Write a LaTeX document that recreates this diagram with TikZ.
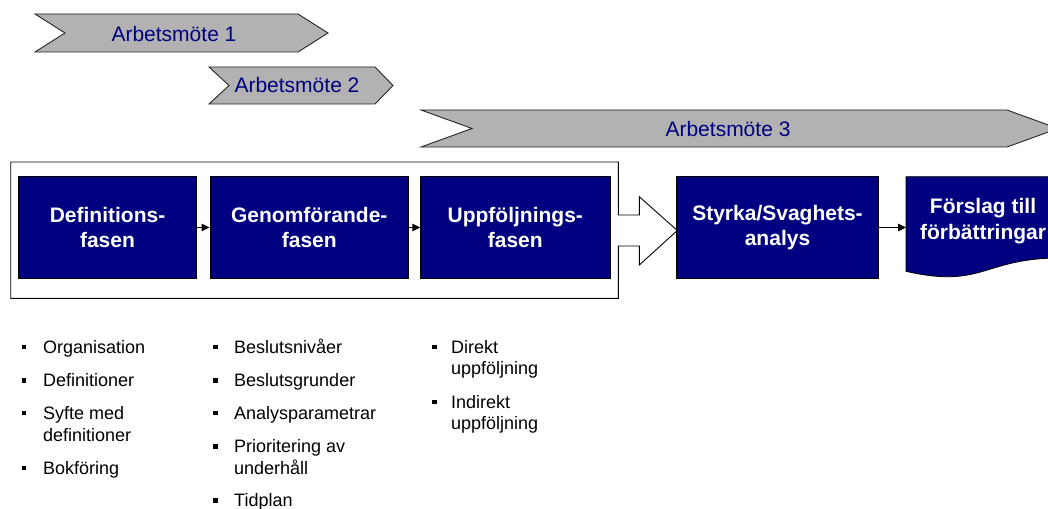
\documentclass[tikz,border=0pt]{standalone}
\usepackage{fontspec}
\setmainfont{Liberation Sans}
\usetikzlibrary{arrows.meta}
\definecolor{navyfill}{RGB}{0,0,128}
\definecolor{navytext}{RGB}{0,0,128}
\definecolor{chevgray}{RGB}{178,178,178}
\tikzset{
  chev/.style={fill=chevgray, draw=black!85, line width=0.9pt, line join=miter},
  chevtext/.style={inner sep=0pt, anchor=base, text=navytext, font=\fontsize{21}{25}\selectfont},
  phasebox/.style={fill=navyfill, draw=black, line width=0.8pt, text=white, align=center,
    font=\fontsize{21}{25.5}\selectfont\bfseries, inner sep=0pt},
  flowarrow/.style={-{Triangle[length=8pt,width=7.5pt]}, line width=1pt, black},
  listtext/.style={inner sep=0pt, anchor=base west, font=\fontsize{18}{21}\selectfont},
  bulletsq/.style={fill=black, minimum size=4.5pt, inner sep=0pt}
}
\begin{document}
\begin{tikzpicture}[x=1pt,y=-1pt]
\useasboundingbox (0,0) rectangle (1048,508);
\clip (0,0) rectangle (1048,508);

% chevrons
\draw[chev] (35,14) -- (298,14) -- (328,33) -- (298,52) -- (35,52) -- (65,33) -- cycle;
\node[chevtext] (a1) at (174,41.7) {Arbetsmöte 1};
\draw[chev] (209,67) -- (375,67) -- (393,85.5) -- (375,104) -- (209,104) -- (229,85.5) -- cycle;
\node[chevtext] (a2) at (297,92.7) {Arbetsmöte 2};
\draw[chev] (421,110) -- (1007,110) -- (1058,128.5) -- (1007,147) -- (421,147) -- (472,128.5) -- cycle;
\node[chevtext] (a3) at (728,136.5) {Arbetsmöte 3};

% big outline arrow
\draw[black, line width=0.9pt, line join=miter] (10.7,162) -- (618.3,162) -- (618.3,215) -- (639.3,215) -- (639.3,196.7)
  -- (677.3,230.5) -- (639.3,265) -- (639.3,246) -- (618.3,246) -- (618.3,298.3) -- (10.7,298.3) -- cycle;

% phase boxes
\node[phasebox, minimum width=178.4, minimum height=101.6] (b1) at (107.5,227.5) {Definitions-\\fasen};
\node[phasebox, minimum width=198.7, minimum height=101.6] (b2) at (309.3,227.5) {Genomförande-\\fasen};
\node[phasebox, minimum width=189.3, minimum height=101.6] (b3) at (515.3,227.5) {Uppföljnings-\\fasen};
\node[phasebox, minimum width=202, minimum height=101.6] (b4) at (777.5,227.5) {Styrka/Svaghets-\\analys};

% document shape
\draw[fill=navyfill, draw=black, line width=0.8pt] (906,176.7) -- (1060,176.7) -- (1060,258)
  .. controls (983,258) and (983,289) .. (906,271.3) -- cycle;
\coordinate (b5w) at (906,227.5);
\node[phasebox, draw=none, fill=none] (b5) at (983,221) {Förslag till\\förbättringar};

% connectors
\draw[flowarrow] (b1.east) -- (b2.west);
\draw[flowarrow] (b2.east) -- (b3.west);
\draw[flowarrow] (b4.east) -- (b5w);

% lists
\node[listtext] (l11) at (43,353) {Organisation};
\node[listtext] (l12) at (43,386.5) {Definitioner};
\node[listtext] (l13) at (43,419) {Syfte med};
\node[listtext] (l13b) at (43,441) {definitioner};
\node[listtext] (l14) at (43,474) {Bokföring};
\foreach \y [count=\i] in {353,386.5,419,474} \node[bulletsq] (s1\i) at (23.8,\y-6) {};

\node[listtext] (l21) at (234,353) {Beslutsnivåer};
\node[listtext] (l22) at (234,386.5) {Beslutsgrunder};
\node[listtext] (l23) at (234,419) {Analysparametrar};
\node[listtext] (l24) at (234,452.5) {Prioritering av};
\node[listtext] (l24b) at (234,474) {underhåll};
\node[listtext] (l25) at (234,506.5) {Tidplan};
\foreach \y [count=\i] in {353,386.5,419,452.5,506.5} \node[bulletsq] (s2\i) at (215.7,\y-6) {};

\node[listtext] (l31) at (451,353) {Direkt};
\node[listtext] (l31b) at (451,374.5) {uppföljning};
\node[listtext] (l32) at (451,408) {Indirekt};
\node[listtext] (l32b) at (451,429.5) {uppföljning};
\foreach \y [count=\i] in {353,408} \node[bulletsq] (s3\i) at (434.7,\y-6) {};
\end{tikzpicture}
\end{document}
